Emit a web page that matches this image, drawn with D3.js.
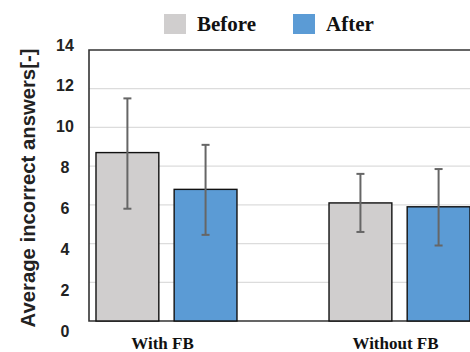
<!DOCTYPE html>
<html><head><meta charset="utf-8">
<script src="https://cdn.jsdelivr.net/npm/d3@7"></script>
<style>body{margin:0;background:#fff}svg{display:block}</style>
</head><body>
<script>
const categories = ["With FB", "Without FB"];
const seriesNames = ["Before", "After"];
const beforeValues = [8.7, 6.1];
const afterValues = [6.8, 5.9];
const beforeErrLow = [5.8, 4.6];
const beforeErrHigh = [11.5, 7.6];
const afterErrLow = [4.45, 3.9];
const afterErrHigh = [9.1, 7.85];
const yTicks = [0, 2, 4, 6, 8, 10, 12, 14];
const colors = {Before: "#d0cece", After: "#5b9bd5"};

const W = 470, H = 352;
const svg = d3.select("body").append("svg").attr("width", W).attr("height", H);

const y = d3.scaleLinear().domain([0, 14]).range([321, 50]);
const yLab = d3.scaleLinear().domain([0, 14]).range([331, 45]);
const x0 = d3.scaleBand().domain(categories).range([89, 477]).paddingInner(0.395).paddingOuter(0.03);
const x1 = d3.scaleBand().domain(seriesNames).range([0, x0.bandwidth()]).paddingInner(0.196).paddingOuter(0);

// gridlines
svg.append("g").selectAll("line").data(yTicks.filter(d => d > 0 && d < 14)).join("line")
  .attr("x1", 89).attr("x2", W).attr("y1", d => y(d)).attr("y2", d => y(d))
  .attr("stroke", "#dcdcdc").attr("stroke-width", 1.2);

// frame
svg.append("path").attr("d", `M${W+5},${y(14)}H89V${y(0)}H${W+5}`)
  .attr("fill", "none").attr("stroke", "#333").attr("stroke-width", 1.6);

const data = [];
categories.forEach((c, i) => {
  data.push({cat: c, s: "Before", v: beforeValues[i], lo: beforeErrLow[i], hi: beforeErrHigh[i]});
  data.push({cat: c, s: "After", v: afterValues[i], lo: afterErrLow[i], hi: afterErrHigh[i]});
});

svg.append("g").selectAll("rect").data(data).join("rect")
  .attr("x", d => x0(d.cat) + x1(d.s))
  .attr("y", d => y(d.v))
  .attr("width", x1.bandwidth())
  .attr("height", d => y(0) - y(d.v))
  .attr("fill", d => colors[d.s])
  .attr("stroke", "#111").attr("stroke-width", 1.4);

const eg = svg.append("g").attr("stroke", "#666").attr("stroke-width", 2);
data.forEach(d => {
  const cx = x0(d.cat) + x1(d.s) + x1.bandwidth() / 2;
  eg.append("line").attr("x1", cx).attr("x2", cx).attr("y1", y(d.hi)).attr("y2", y(d.lo));
  eg.append("line").attr("x1", cx - 4).attr("x2", cx + 4).attr("y1", y(d.hi)).attr("y2", y(d.hi));
  eg.append("line").attr("x1", cx - 4).attr("x2", cx + 4).attr("y1", y(d.lo)).attr("y2", y(d.lo));
});

// y tick labels
const yAxis = svg.append("g").attr("transform", "translate(65,0)")
  .call(d3.axisLeft(yLab).tickValues(yTicks).tickSize(0).tickPadding(0));
yAxis.select(".domain").remove();
yAxis.selectAll("text").attr("text-anchor", "middle")
  .attr("font-family", "Liberation Sans, Arial, sans-serif").attr("font-weight", "bold")
  .attr("font-size", 16).attr("fill", "#222");

// y title
svg.append("text").attr("transform", "translate(35,188) rotate(-90)")
  .attr("text-anchor", "middle").attr("font-family", "Liberation Sans, Arial, sans-serif")
  .attr("font-weight", "bold")
  .attr("font-size", 20.3).attr("fill", "#222").text("Average incorrect answers[-]");

// x labels
const xAxis = svg.append("g").attr("transform", `translate(0,${y(0)})`)
  .call(d3.axisBottom(x0).tickSize(0).tickPadding(0));
xAxis.select(".domain").remove();
xAxis.selectAll("text").attr("dy", null).attr("y", 28)
  .attr("transform", "translate(-4,0)")
  .attr("font-family", "Liberation Serif, Times New Roman, serif").attr("font-weight", "bold")
  .attr("font-size", 17).attr("fill", "#111");

// legend
const legendItems = [{s: "Before", x: 164, tx: 197}, {s: "After", x: 293, tx: 326}];
const lg = svg.append("g");
legendItems.forEach(it => {
  lg.append("rect").attr("x", it.x).attr("y", 14).attr("width", 22).attr("height", 20)
    .attr("fill", colors[it.s]);
  lg.append("text").attr("x", it.tx).attr("y", 31)
    .attr("font-family", "Liberation Serif, Times New Roman, serif").attr("font-weight", "bold")
    .attr("font-size", 21).attr("fill", "#111").text(it.s);
});
</script>
</body></html>
